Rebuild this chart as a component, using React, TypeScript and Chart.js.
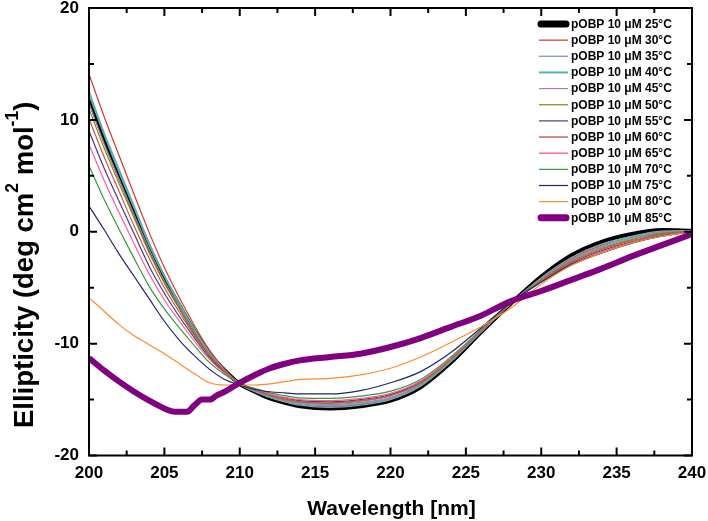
import React, { useEffect, useRef } from 'react';
import { Chart, registerables } from 'chart.js';

Chart.register(...registerables);

// ---- data ----
const wavelengths = [200, 201, 202, 203, 204, 205, 206, 207, 208, 209, 210, 211, 212, 213, 214, 216, 218, 220, 222, 224, 226, 228, 230, 232, 234, 236, 238, 240];
const wavelengths85 = [200, 201, 202, 203, 204, 205, 205.5, 206, 206.5, 207, 207.5, 208, 208.5, 209, 210, 211, 212, 213, 214, 216, 218, 220, 222, 224, 226, 228, 230, 232, 234, 236, 238, 240];

const t25 = [11.9, 8.3, 5.0, 1.8, -1.4, -4.2, -6.6, -8.9, -10.9, -12.4, -13.6, -14.3, -14.9, -15.3, -15.6, -15.8, -15.6, -15.1, -13.9, -11.7, -9.0, -6.4, -4.0, -2.1, -0.9, -0.2, 0.15, 0.1];
const t30 = [14.1, 10.3, 6.8, 3.3, -0.1, -3.2, -5.9, -8.4, -10.6, -12.3, -13.6, -14.2, -14.8, -15.2, -15.4, -15.6, -15.4, -14.9, -13.7, -11.6, -8.9, -6.4, -4.2, -2.4, -1.2, -0.5, 0.0, 0.1];
const t35 = [12.6, 8.9, 5.6, 2.3, -1.0, -3.9, -6.4, -8.75, -10.8, -12.4, -13.6, -14.3, -14.8, -15.2, -15.5, -15.7, -15.5, -15.0, -13.8, -11.6, -9.0, -6.4, -4.1, -2.3, -1.1, -0.4, 0.05, 0.1];
const t40 = [12.3, 8.7, 5.3, 2.1, -1.2, -4.0, -6.5, -8.8, -10.85, -12.4, -13.6, -14.2, -14.8, -15.1, -15.4, -15.55, -15.35, -14.9, -13.7, -11.6, -8.9, -6.4, -4.2, -2.5, -1.3, -0.5, -0.05, 0.05];
const t45 = [11.5, 7.9, 4.7, 1.5, -1.6, -4.4, -6.7, -9.0, -10.95, -12.4, -13.6, -14.2, -14.7, -15.05, -15.3, -15.45, -15.25, -14.8, -13.6, -11.5, -8.9, -6.4, -4.25, -2.55, -1.4, -0.6, -0.1, 0.05];
const t50 = [11.0, 7.5, 4.3, 1.2, -1.9, -4.6, -6.9, -9.1, -11.0, -12.45, -13.6, -14.15, -14.65, -15.0, -15.2, -15.35, -15.15, -14.65, -13.55, -11.45, -8.85, -6.4, -4.3, -2.65, -1.5, -0.7, -0.15, 0.05];
const t55 = [9.0, 5.7, 2.7, -0.2, -3.1, -5.5, -7.6, -9.5, -11.3, -12.6, -13.6, -14.1, -14.55, -14.85, -15.1, -15.2, -15.0, -14.55, -13.4, -11.35, -8.85, -6.35, -4.4, -2.8, -1.7, -0.9, -0.25, 0.0];
const t60 = [10.1, 6.7, 3.6, 0.5, -2.4, -5.0, -7.2, -9.3, -11.1, -12.5, -13.6, -14.15, -14.6, -14.95, -15.2, -15.3, -15.1, -14.65, -13.5, -11.4, -8.85, -6.4, -4.35, -2.75, -1.6, -0.8, -0.2, 0.05];
const t65 = [7.8, 4.6, 1.7, -1.1, -3.8, -6.1, -8.0, -9.8, -11.4, -12.65, -13.6, -14.05, -14.5, -14.8, -15.0, -15.1, -14.9, -14.45, -13.35, -11.3, -8.8, -6.35, -4.45, -2.9, -1.8, -0.95, -0.3, 0.0];
const t70 = [5.9, 2.9, 0.2, -2.4, -4.9, -6.9, -8.6, -10.2, -11.7, -12.75, -13.6, -14.0, -14.4, -14.65, -14.85, -14.9, -14.7, -14.25, -13.2, -11.2, -8.75, -6.35, -4.5, -3.0, -1.9, -1.05, -0.35, 0.0];
const t75 = [2.3, 0.2, -2.0, -4.0, -6.0, -8.0, -9.7, -11.1, -12.3, -13.2, -13.7, -14.1, -14.3, -14.4, -14.5, -14.5, -14.2, -13.5, -12.5, -10.8, -8.6, -6.3, -4.5, -2.9, -1.9, -1.0, -0.4, 0.0];
const t80 = [-5.9, -7.1, -8.3, -9.3, -10.1, -10.9, -11.8, -12.7, -13.5, -13.7, -13.7, -13.7, -13.6, -13.4, -13.2, -13.1, -12.8, -12.2, -11.2, -9.9, -8.5, -6.8, -4.7, -3.0, -1.9, -1.0, -0.4, 0.0];
const t85 = [-11.3, -12.4, -13.4, -14.3, -15.1, -15.8, -16.05, -16.1, -16.1, -15.5, -15.0, -15.0, -14.6, -14.3, -13.5, -12.8, -12.2, -11.8, -11.5, -11.2, -10.9, -10.3, -9.5, -8.5, -7.5, -6.2, -5.3, -4.3, -3.3, -2.2, -1.2, -0.2];

const temperatures = ['25', '30', '35', '40', '45', '50', '55', '60', '65', '70', '75', '80', '85'];
const seriesValues = [t25, t30, t35, t40, t45, t50, t55, t60, t65, t70, t75, t80, t85];
const seriesX = [wavelengths, wavelengths, wavelengths, wavelengths, wavelengths, wavelengths, wavelengths, wavelengths, wavelengths, wavelengths, wavelengths, wavelengths, wavelengths85];
const colors = ['#000000', '#d03a2a', '#8c9ac6', '#4cb8a8', '#b07ca8', '#85851a', '#4a3a82', '#c05858', '#ff5c9c', '#3a9a3a', '#23236e', '#ff8a2e', '#800080'];
const lineWidths = [4, 1.2, 1.2, 1.6, 1.2, 1.2, 1.2, 1.2, 1.2, 1.2, 1.2, 1.2, 6];
const legendWidths = [7, 1.2, 1.4, 2, 1.2, 1.2, 1.2, 1.4, 1.4, 1.2, 1.2, 1.2, 7];

const xMajorTicks = [200, 205, 210, 215, 220, 225, 230, 235, 240];
const xMinorTicks = [202.5, 207.5, 212.5, 217.5, 222.5, 227.5, 232.5, 237.5];
const yMajorTicks = [-20, -10, 0, 10, 20];
const yMinorTicks = [-15, -5, 5, 15];

const FONT = "'Liberation Sans', Arial, Helvetica, sans-serif";

const framePlugin = {
  id: 'framePlugin',
  afterDraw(chart: any) {
    const { ctx, chartArea: a, scales } = chart;
    const xs = scales.x;
    const ys = scales.y;
    ctx.save();
    ctx.strokeStyle = '#000';
    ctx.lineWidth = 2;
    ctx.strokeRect(a.left, a.top, a.right - a.left, a.bottom - a.top);
    ctx.beginPath();
    const tick = (v: number, len: number) => {
      const p = xs.getPixelForValue(v);
      ctx.moveTo(p, a.bottom); ctx.lineTo(p, a.bottom - len);
      ctx.moveTo(p, a.top); ctx.lineTo(p, a.top + len);
    };
    xMajorTicks.forEach((v) => tick(v, 8));
    xMinorTicks.forEach((v) => tick(v, 5));
    const ytick = (v: number, len: number) => {
      const p = ys.getPixelForValue(v);
      ctx.moveTo(a.left, p); ctx.lineTo(a.left + len, p);
      ctx.moveTo(a.right, p); ctx.lineTo(a.right - len, p);
    };
    yMajorTicks.forEach((v) => ytick(v, 8));
    yMinorTicks.forEach((v) => ytick(v, 5));
    ctx.stroke();

    // legend
    const rowTop = 24;
    const rowStep = 16.15;
    ctx.textAlign = 'left';
    ctx.textBaseline = 'middle';
    ctx.font = `bold 12px ${FONT}`;
    temperatures.forEach((t, i) => {
      const yy = rowTop + i * rowStep;
      ctx.beginPath();
      ctx.strokeStyle = colors[i];
      ctx.lineWidth = legendWidths[i];
      ctx.lineCap = legendWidths[i] > 3 ? 'round' : 'butt';
      ctx.moveTo(legendWidths[i] > 3 ? 541 : 539, yy);
      ctx.lineTo(legendWidths[i] > 3 ? 566 : 568, yy);
      ctx.stroke();
      ctx.fillStyle = '#000';
      ctx.fillText(`pOBP 10 \u03bcM ${t}\u00b0C`, 571, yy + 0.5);
    });

    // x title
    ctx.fillStyle = '#000';
    ctx.textAlign = 'center';
    ctx.textBaseline = 'alphabetic';
    ctx.font = `bold 21px ${FONT}`;
    ctx.fillText('Wavelength [nm]', (a.left + a.right) / 2 + 1, 515);

    // y title with superscripts
    ctx.save();
    ctx.translate(33, 428);
    ctx.rotate(-Math.PI / 2);
    ctx.textAlign = 'left';
    const parts: [string, number, number][] = [
      ['Ellipticity (deg cm', 27.5, 0],
      ['2', 17.5, -15],
      [' mol', 27.5, 0],
      ['-1', 17.5, -15],
      [')', 27.5, 0],
    ];
    let xx = 0;
    parts.forEach(([s, size, dy]) => {
      ctx.font = `bold ${size}px ${FONT}`;
      ctx.fillText(s, xx, dy);
      xx += ctx.measureText(s).width;
    });
    ctx.restore();
    ctx.restore();
  },
};

const noPad = (s: any) => {
  s.paddingTop = 0;
  s.paddingBottom = 0;
  s.paddingLeft = 0;
  s.paddingRight = 0;
};

export default function App() {
  const ref = useRef<HTMLCanvasElement>(null);
  useEffect(() => {
    const datasets = temperatures.map((t, i) => ({
      label: `pOBP 10 \u03bcM ${t}\u00b0C`,
      data: seriesX[i].map((x, j) => ({ x, y: seriesValues[i][j] })),
      borderColor: colors[i],
      backgroundColor: colors[i],
      borderWidth: lineWidths[i],
      pointRadius: 0,
      fill: false,
      cubicInterpolationMode: 'monotone' as const,
      order: 100 - i,
    }));
    const chart = new Chart(ref.current!, {
      type: 'line',
      data: { datasets },
      options: {
        animation: false,
        responsive: true,
        maintainAspectRatio: false,
        layout: { padding: { top: 8, right: 16, left: 0, bottom: 0 } },
        plugins: { legend: { display: false }, tooltip: { enabled: false }, title: { display: false } },
        scales: {
          x: {
            type: 'linear',
            min: 200,
            max: 240,
            grid: { display: false, drawTicks: false },
            border: { display: false },
            ticks: { stepSize: 5, color: '#000', padding: 8, maxRotation: 0, font: { family: FONT, size: 17, weight: 'bold' } },
            afterFit: (s: any) => { s.height = 65.5; noPad(s); },
          },
          y: {
            type: 'linear',
            min: -20,
            max: 20,
            grid: { display: false, drawTicks: false },
            border: { display: false },
            ticks: { stepSize: 10, color: '#000', padding: 10, font: { family: FONT, size: 17, weight: 'bold' } },
            afterFit: (s: any) => { s.width = 89; noPad(s); },
          },
        },
      },
      plugins: [framePlugin],
    } as any);
    return () => chart.destroy();
  }, []);
  return (
    <div style={{ position: 'fixed', left: 0, top: 0, width: 708, height: 521, background: '#fff' }}>
      <canvas ref={ref} />
    </div>
  );
}
